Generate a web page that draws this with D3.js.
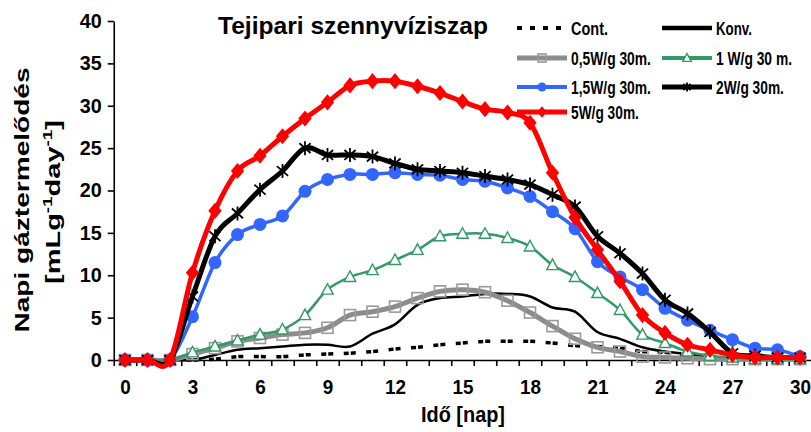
<!DOCTYPE html>
<html>
<head>
<meta charset="utf-8">
<script src="https://cdn.jsdelivr.net/npm/d3@7"></script>
<style>
  body { margin: 0; background: #fff; }
  .chart text { font-family: "Liberation Sans", Arial, sans-serif; font-weight: bold; fill: #000; }
</style>
</head>
<body>
<div class="chart"></div>
<script>
// days on the x axis (categories)
const days = [0, 1, 2, 3, 4, 5, 6, 7, 8, 9, 10, 11, 12, 13, 14, 15, 16, 17, 18, 19, 20,
  21, 22, 23, 24, 25, 26, 27, 28, 29, 30];
const xTickLabels = [0, 3, 6, 9, 12, 15, 18, 21, 24, 27, 30];
const yTickLabels = [0, 5, 10, 15, 20, 25, 30, 35, 40];

// daily gas production
const cont = [0, 0, 0, 0, 0.1, 0.4, 0.4, 0.4, 0.6, 0.7, 0.8, 1.0, 1.3, 1.5, 1.8, 2.0, 2.2, 2.2, 2.2, 2.0,
  1.7, 1.6, 1.4, 1.0, 0.9, 0.6, 0.4, 0.2, 0.1, 0.1, 0.1];
const konv = [0, 0, 0, 0, 0.6, 1.2, 1.4, 1.6, 1.8, 1.8, 1.6, 3.1, 4.2, 6.5, 7.3, 7.5, 7.8, 7.8, 7.5, 6.2,
  5.7, 3.3, 2.5, 1.5, 1.0, 0.7, 0.4, 0.2, 0.1, 0.1, 0.1];
const w05 = [0, 0, 0, 0.7, 1.4, 2.2, 2.6, 3.0, 3.2, 3.8, 5.3, 5.7, 6.3, 7.3, 8.1, 8.3, 8.0, 7.0, 5.6, 4.0,
  2.5, 1.5, 1.0, 0.4, 0.3, 0.2, 0.1, 0.1, 0.1, 0.1, 0.1];
const w1 = [0, 0, 0, 0.9, 1.6, 2.3, 3.0, 3.6, 5.3, 8.3, 9.8, 10.6, 11.8, 13.0, 14.6, 14.9, 14.9, 14.4, 13.4, 11.2,
  9.8, 7.9, 5.9, 3.0, 2.0, 1.0, 0.5, 0.3, 0.1, 0.1, 0.1];
const w15 = [0, 0, 0, 5.1, 11.5, 14.8, 16.0, 17.0, 19.9, 21.3, 21.9, 21.9, 22.1, 21.9, 21.8, 21.3, 21.1, 20.3, 19.3, 17.5,
  15.5, 11.6, 9.8, 8.3, 6.1, 4.7, 3.5, 2.4, 1.4, 1.2, 0.4];
const w2 = [0, 0, 0, 7.5, 14.6, 17.3, 20.1, 22.3, 25.0, 24.2, 24.2, 24.0, 23.2, 22.5, 22.3, 22.1, 21.7, 21.3, 20.7, 19.5,
  18.1, 14.6, 12.6, 10.2, 7.1, 5.5, 3.3, 0.8, 0.5, 0.3, 0.3];
const w5 = [0, 0, 0, 10.3, 17.6, 22.3, 24.1, 26.4, 28.5, 30.4, 32.4, 32.9, 32.9, 32.3, 31.5, 30.5, 29.6, 29.2, 28.0, 22.1,
  16.8, 13.0, 9.3, 5.3, 3.2, 1.8, 1.2, 0.6, 0.3, 0.3, 0.3];

// series in drawing / legend order
const series = [
  { name: "Cont.", values: cont, color: "#000", width: 3.5, marker: null, dash: "5,2,5,10.5", legendDash: "5,8", labelW: 37 },
  { name: "Konv.", values: konv, color: "#000", width: 2.5, marker: null, labelW: 36 },
  { name: "0,5W/g 30m.", values: w05, color: "#8c8c8c", width: 5, marker: "square", labelW: 80 },
  { name: "1 W/g 30 m.", values: w1, color: "#339966", width: 2.5, marker: "triangle", labelW: 76 },
  { name: "1,5W/g 30m.", values: w15, color: "#3366ff", width: 3.5, marker: "circle", labelW: 80 },
  { name: "2W/g 30m.", values: w2, color: "#000", width: 5, marker: "star", labelW: 68 },
  { name: "5W/g 30m.", values: w5, color: "#ff0000", width: 5, marker: "diamond", labelW: 68 }
];

const W = 811, H = 432;

const svg = d3
  .select(".chart")
  .append("svg")
  .attr("width", W)
  .attr("height", H);

// scales (category axis: ticks sit between the days)
const x = d3.scaleLinear().domain([-0.5, 30.5]).range([113.75, 811.25]);
const y = d3.scaleLinear().domain([0, 40]).range([360, 21]);

// axes
const halfDays = days.map(d => d - 0.5).concat([30.5]);

svg
  .append("g")
  .attr("class", "axis x-axis")
  .attr("transform", "translate(0,360)")
  .call(d3.axisBottom(x).tickValues(halfDays).tickSize(6).tickSizeOuter(0).tickFormat(""))
  .call(g => g.selectAll("line, path").attr("stroke", "#000").attr("stroke-width", 1.6));

svg
  .append("g")
  .attr("class", "axis x-labels")
  .attr("transform", "translate(0,360)")
  .call(d3.axisBottom(x).tickValues(xTickLabels).tickSize(0).tickPadding(20))
  .call(g => g.select(".domain").remove())
  .call(g =>
    g.selectAll("text")
      .attr("font-size", 20)
      .attr("textLength", d => String(d).length * 10.5)
      .attr("lengthAdjust", "spacingAndGlyphs")
  );

svg
  .append("g")
  .attr("class", "axis y-axis")
  .attr("transform", "translate(113.75,0)")
  .call(d3.axisLeft(y).tickValues(yTickLabels).tickSize(6).tickSizeOuter(0).tickPadding(6))
  .call(g => g.selectAll("line, path").attr("stroke", "#000").attr("stroke-width", 1.6))
  .call(g =>
    g.selectAll("text")
      .attr("font-size", 20)
      .attr("textLength", d => String(d).length * 11)
      .attr("lengthAdjust", "spacingAndGlyphs")
  );

// marker shapes
function markerPath(type, s) {
  if (type === "triangle") return `M0,${-s}L${s * 0.95},${s * 0.75}L${-s * 0.95},${s * 0.75}Z`;
  if (type === "diamond") return `M0,${-s * 1.15}L${s * 0.95},0L0,${s * 1.15}L${-s * 0.95},0Z`;
  if (type === "star")
    return `M0,${-s}V${s}M${-s * 0.8},${-s * 0.7}L${s * 0.8},${s * 0.7}M${-s * 0.8},${s * 0.7}L${s * 0.8},${-s * 0.7}`;
  return "";
}

function drawMarker(g, type, color, cx, cy, s) {
  if (type === "square") {
    g.append("rect")
      .attr("x", cx - s).attr("y", cy - s)
      .attr("width", 2 * s).attr("height", 2 * s)
      .attr("fill", "none").attr("stroke", "#9a9a9a").attr("stroke-width", 1.6);
  } else if (type === "circle") {
    g.append("circle")
      .attr("cx", cx).attr("cy", cy).attr("r", s)
      .attr("fill", color);
  } else if (type === "triangle") {
    g.append("path")
      .attr("transform", `translate(${cx},${cy})`)
      .attr("d", markerPath(type, s))
      .attr("fill", "#fff").attr("stroke", color).attr("stroke-width", 1.4);
  } else if (type === "diamond") {
    g.append("path")
      .attr("transform", `translate(${cx},${cy})`)
      .attr("d", markerPath(type, s))
      .attr("fill", color);
  } else if (type === "star") {
    g.append("path")
      .attr("transform", `translate(${cx},${cy})`)
      .attr("d", markerPath(type, s))
      .attr("fill", "none").attr("stroke", color).attr("stroke-width", 1.8);
  }
}

const markerSize = { square: 5.5, circle: 6.5, triangle: 6, diamond: 7, star: 7 };

// lines (Excel style smoothing)
const line = d3
  .line()
  .x((d, i) => x(days[i]))
  .y(d => y(d))
  .curve(d3.curveCardinal.tension(0));

const plot = svg.append("g").attr("class", "plot");

series.forEach(s => {
  const g = plot.append("g").attr("class", "series");
  g.append("path")
    .datum(s.values)
    .attr("d", line)
    .attr("fill", "none")
    .attr("stroke", s.color)
    .attr("stroke-width", s.width)
    .attr("stroke-linejoin", "round")
    .attr("stroke-dasharray", s.dash || null)
    .attr("stroke-dashoffset", s.dash ? 6 : null);
  if (s.marker) {
    s.values.forEach((v, i) => drawMarker(g, s.marker, s.color, x(days[i]), y(v), markerSize[s.marker]));
  }
});

// title
svg
  .append("text")
  .attr("x", 218)
  .attr("y", 34)
  .attr("font-size", 24)
  .attr("textLength", 270)
  .attr("lengthAdjust", "spacingAndGlyphs")
  .text("Tejipari szennyvíziszap");

// axis titles
svg
  .append("text")
  .attr("text-anchor", "middle")
  .attr("x", 463)
  .attr("y", 422)
  .attr("font-size", 22)
  .attr("textLength", 84)
  .attr("lengthAdjust", "spacingAndGlyphs")
  .text("Idő [nap]");

svg
  .append("text")
  .attr("text-anchor", "middle")
  .attr("transform", "translate(29,200) rotate(-90)")
  .attr("font-size", 20)
  .attr("textLength", 265)
  .attr("lengthAdjust", "spacingAndGlyphs")
  .text("Napi gáztermelődés");

const yUnit = svg
  .append("text")
  .attr("text-anchor", "middle")
  .attr("transform", "translate(60,202) rotate(-90) scale(1.45,1)")
  .attr("font-size", 20);
yUnit.append("tspan").text("[mLg");
yUnit.append("tspan").attr("font-size", 13).attr("dy", -8).text("-1");
yUnit.append("tspan").attr("dy", 8).text("day");
yUnit.append("tspan").attr("font-size", 13).attr("dy", -8).text("-1");
yUnit.append("tspan").attr("dy", 8).text("]");

// legend, two columns
const legendRows = [28, 58, 87, 112];
const legendCols = [517, 662];
const legendMarker = { square: 4, circle: 4.5, triangle: 4.5, diamond: 5, star: 4.5 };

const legend = svg.append("g").attr("class", "legend");
series.forEach((s, i) => {
  const lx = legendCols[i % 2];
  const ly = legendRows[Math.floor(i / 2)];
  const g = legend.append("g");
  g.append("line")
    .attr("x1", lx).attr("x2", lx + 50)
    .attr("y1", ly).attr("y2", ly)
    .attr("stroke", s.color)
    .attr("stroke-width", s.marker ? Math.max(s.width, 4) : (s.dash ? 4 : 4.5))
    .attr("stroke-dasharray", s.legendDash || null);
  if (s.marker) drawMarker(g, s.marker, s.color, lx + 25, ly, legendMarker[s.marker]);
  // narrow bold label: squeeze horizontally to the width seen in the picture
  const label = g.append("text")
    .attr("font-size", 18)
    .text(s.name);
  const k = s.labelW / label.node().getComputedTextLength();
  label.attr("transform", `translate(${lx + 54},${ly + 6.5}) scale(${k},1)`);
});
</script>
</body>
</html>
